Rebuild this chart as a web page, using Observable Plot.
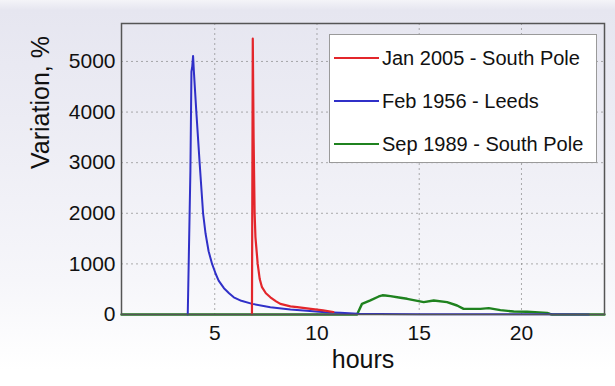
<!DOCTYPE html>
<html>
<head>
<meta charset="utf-8">
<script src="https://cdn.jsdelivr.net/npm/d3@7"></script>
<script src="https://cdn.jsdelivr.net/npm/@observablehq/plot@0.6"></script>
<style>
  html, body { margin: 0; padding: 0; }
  body { width: 615px; height: 386px; overflow: hidden; font-family: "Liberation Sans", Arial, sans-serif; }
  #wrap { position: relative; width: 615px; height: 386px;
    background: linear-gradient(to bottom, #f4f4f8 0px, #e6e6f0 10px, #ececf4 120px, #f6f6fa 280px, #ffffff 370px); }
  #legend { position: absolute; left: 329px; top: 34px; width: 268px; height: 129px;
    background: #ffffff; border: 1px solid #9a9a9a; box-sizing: border-box; }
  .row { position: absolute; left: 4px; height: 24px; display: flex; align-items: center; font-size: 20px; color: #111; white-space: nowrap; }
  .sw { width: 45px; height: 0; border-top: 2px solid; margin-right: 3px; }
</style>
</head>
<body>
<div id="wrap"><div id="chart"></div><div id="legend"></div></div>
<script>
const seriesNames = ["Jan 2005 - South Pole", "Feb 1956 - Leeds", "Sep 1989 - South Pole"];
const seriesColors = ["#e3262b", "#3030c8", "#1f821f"];

const redHours = [6.82, 6.86, 6.90, 6.95, 6.99, 7.10, 7.20, 7.31, 7.50, 7.72, 8.00, 8.21, 8.70, 9.03, 9.70, 10.30, 10.80];
const redValues = [0, 5450, 3500, 2000, 1530, 1000, 700, 540, 420, 340, 260, 210, 160, 145, 110, 80, 50];

const blueHours = [3.68, 3.81, 3.84, 3.86, 3.90, 3.94, 3.98, 4.10, 4.26, 4.43, 4.55, 4.70, 4.87, 5.05, 5.19, 5.45, 5.70, 5.93, 6.30, 6.83, 7.72, 8.70, 9.50, 10.40, 11.14, 12.00, 13.00, 15.00, 17.00, 19.00, 21.00, 23.30];
const blueValues = [0, 2850, 4000, 4800, 4900, 5110, 4800, 4000, 3000, 2000, 1600, 1250, 1000, 800, 670, 520, 420, 340, 270, 210, 145, 100, 75, 45, 33, 15, 8, 5, 4, 3, 3, 2];

const greenHours = [0.44, 11.96, 12.20, 12.61, 13.02, 13.20, 13.34, 13.59, 14.08, 14.41, 15.22, 15.71, 16.36, 16.85, 17.17, 17.99, 18.40, 18.97, 19.62, 20.27, 21.25, 21.40, 21.50, 24.06];
const greenValues = [0, 0, 210, 280, 356, 380, 375, 362, 330, 310, 244, 277, 244, 178, 112, 112, 125, 86, 59, 53, 33, 10, 0, 0];

const xTicks = [5, 10, 15, 20];
const yTicks = [0, 1000, 2000, 3000, 4000, 5000];
const xLabel = "hours";
const yLabel = "Variation, %";

const toRows = (hs, vs, s) => hs.map((h, i) => ({hour: h, value: vs[i], series: s}));
const red = toRows(redHours, redValues, seriesNames[0]);
const blue = toRows(blueHours, blueValues, seriesNames[1]);
const green = toRows(greenHours, greenValues, seriesNames[2]);

const font = "'Liberation Sans', Arial, sans-serif";

const chart = Plot.plot({
  width: 615,
  height: 386,
  marginLeft: 121,
  marginRight: 11,
  marginTop: 23,
  marginBottom: 72,
  style: { background: "transparent", fontFamily: font, color: "#111" },
  x: { domain: [0.44, 24.06] },
  y: { domain: [0, 5750] },
  marks: [
    Plot.gridX(xTicks, { stroke: "#8a8a8a", strokeOpacity: 0.7, strokeDasharray: "2,3" }),
    Plot.gridY(yTicks.filter(d => d > 0), { stroke: "#8a8a8a", strokeOpacity: 0.7, strokeDasharray: "2,3" }),
    Plot.axisX(xTicks, { tickSize: 0, tickPadding: 11, fontSize: 21, label: null, tickFormat: d3.format("d") }),
    Plot.axisY(yTicks, { tickSize: 0, tickPadding: 6, fontSize: 21, label: null, tickFormat: d3.format("d") }),
    Plot.lineY(green, { x: "hour", y: "value", stroke: seriesColors[2], strokeWidth: 2.4 }),
    Plot.lineY(blue, { x: "hour", y: "value", stroke: seriesColors[1], strokeWidth: 2 }),
    Plot.lineY(red, { x: "hour", y: "value", stroke: seriesColors[0], strokeWidth: 2.2 }),
    Plot.frame({ stroke: "#555", strokeWidth: 1.5 }),
    Plot.text([xLabel], { frameAnchor: "bottom", dy: 45, fontSize: 25, lineAnchor: "middle" }),
    Plot.text([yLabel], { frameAnchor: "left", dx: -81, rotate: -90, fontSize: 25, lineAnchor: "middle" })
  ]
});
document.getElementById("chart").appendChild(chart);

const legend = document.getElementById("legend");
const rowTops = [11, 54, 97];
seriesNames.forEach((name, i) => {
  const row = document.createElement("div");
  row.className = "row";
  row.style.top = rowTops[i] + "px";
  const sw = document.createElement("span");
  sw.className = "sw";
  sw.style.borderColor = seriesColors[i];
  const t = document.createElement("span");
  t.textContent = name;
  row.appendChild(sw);
  row.appendChild(t);
  legend.appendChild(row);
});
</script>
</body>
</html>
